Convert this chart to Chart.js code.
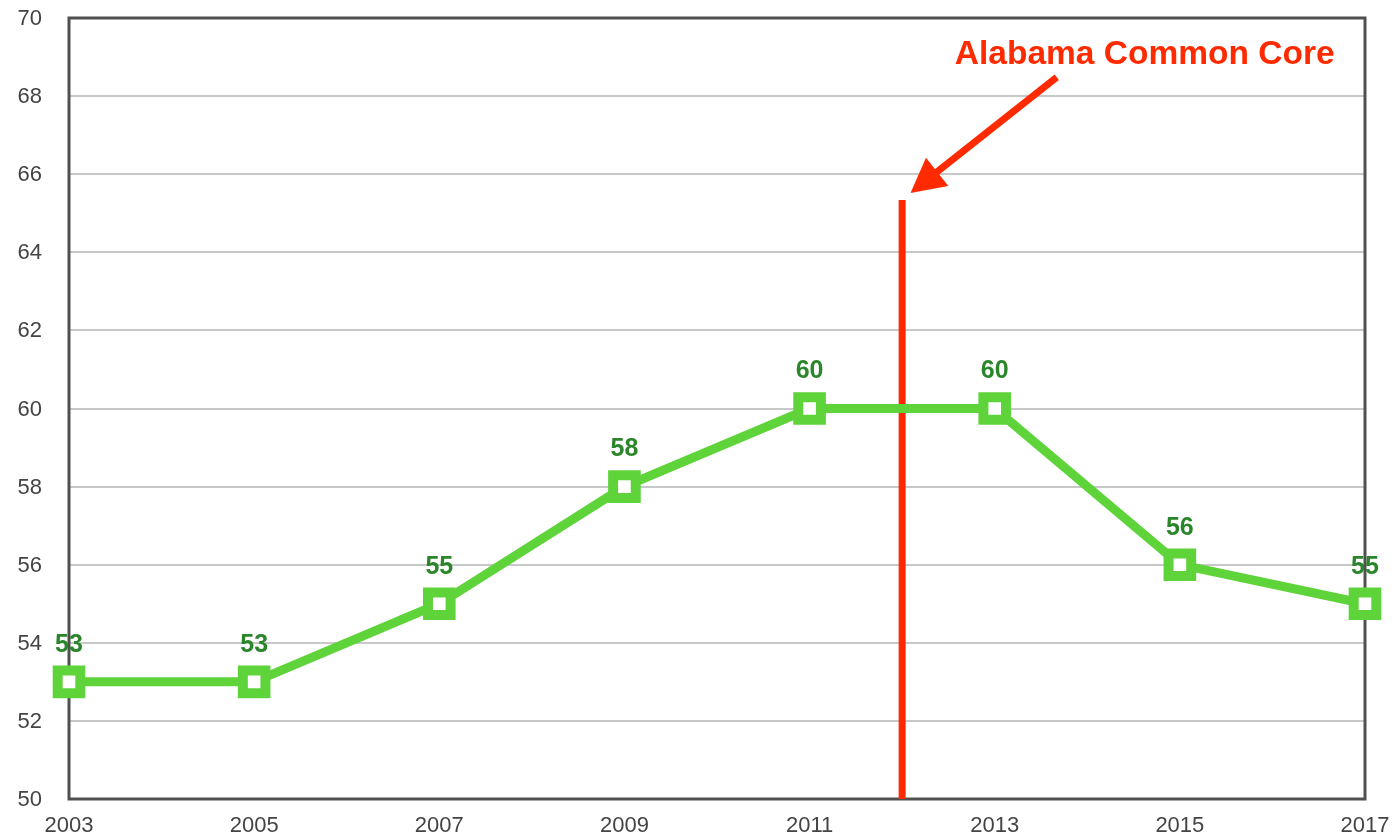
<!DOCTYPE html>
<html>
<head>
<meta charset="utf-8">
<script src="https://cdn.jsdelivr.net/npm/chart.js@4/dist/chart.umd.min.js"></script>
<style>
  html, body { margin: 0; padding: 0; background: #fff; overflow: hidden; }
</style>
</head>
<body>
<canvas id="chart" width="1394" height="833"></canvas>
<script>
// data
const years = [2003, 2005, 2007, 2009, 2011, 2013, 2015, 2017];
const scores = [53, 53, 55, 58, 60, 60, 56, 55];
const yTicks = [50, 52, 54, 56, 58, 60, 62, 64, 66, 68, 70];

// annotation (in data units)
const ccYear = 2012;
const ccLineTop = 65.34;
const ccLabel = 'Alabama Common Core';
const ccLabelPos = [2014.62, 69.06];
const ccArrowFrom = [2013.67, 68.48];
const ccArrowTo = [2012.09, 65.52];

const green = '#5ed43a';
const labelGreen = '#2b862b';
const red = '#ff2a00';
const font = '"Liberation Sans", Arial, sans-serif';

const frame = {
  id: 'frame',
  beforeDatasetsDraw(chart) {
    const { ctx, chartArea: a, scales } = chart;
    ctx.save();
    // y tick labels
    ctx.font = '22px ' + font;
    ctx.fillStyle = '#444';
    ctx.textAlign = 'right';
    ctx.textBaseline = 'middle';
    yTicks.forEach(v => ctx.fillText(String(v), a.left - 27, scales.y.getPixelForValue(v) + 1));

    ctx.strokeStyle = '#505050';
    ctx.lineWidth = 3;
    ctx.strokeRect(a.left, a.top, a.right - a.left, a.bottom - a.top);
    // common core line
    const x = scales.x.getPixelForValue(ccYear);
    ctx.strokeStyle = red;
    ctx.lineWidth = 7;
    ctx.beginPath();
    ctx.moveTo(x, scales.y.getPixelForValue(ccLineTop));
    ctx.lineTo(x, a.bottom);
    ctx.stroke();
    ctx.restore();
  }
};

const labels = {
  id: 'labels',
  afterDatasetsDraw(chart) {
    const { ctx, scales } = chart;
    const meta = chart.getDatasetMeta(0);
    ctx.save();
    ctx.font = 'bold 25px ' + font;
    ctx.fillStyle = labelGreen;
    ctx.textAlign = 'center';
    ctx.textBaseline = 'middle';
    meta.data.forEach((pt, i) => {
      ctx.fillText(String(scores[i]), pt.x, pt.y - 37);
    });

    // arrow
    const x1 = scales.x.getPixelForValue(ccArrowFrom[0]);
    const y1 = scales.y.getPixelForValue(ccArrowFrom[1]);
    const x2 = scales.x.getPixelForValue(ccArrowTo[0]);
    const y2 = scales.y.getPixelForValue(ccArrowTo[1]);
    const ang = Math.atan2(y2 - y1, x2 - x1);
    const head = 34, hw = 18;
    const bx = x2 - head * Math.cos(ang), by = y2 - head * Math.sin(ang);
    ctx.strokeStyle = red;
    ctx.fillStyle = red;
    ctx.lineWidth = 7;
    ctx.beginPath();
    ctx.moveTo(x1, y1);
    ctx.lineTo(bx + 2 * Math.cos(ang), by + 2 * Math.sin(ang));
    ctx.stroke();
    ctx.beginPath();
    ctx.moveTo(x2, y2);
    ctx.lineTo(bx + hw * Math.sin(ang), by - hw * Math.cos(ang));
    ctx.lineTo(bx - hw * Math.sin(ang), by + hw * Math.cos(ang));
    ctx.closePath();
    ctx.fill();

    ctx.font = 'bold 33.5px ' + font;
    ctx.fillText(ccLabel, scales.x.getPixelForValue(ccLabelPos[0]), scales.y.getPixelForValue(ccLabelPos[1]));
    ctx.restore();
  }
};

new Chart(document.getElementById('chart'), {
  type: 'line',
  data: {
    datasets: [{
      data: years.map((y, i) => ({ x: y, y: scores[i] })),
      borderColor: green,
      borderWidth: 9,
      pointStyle: 'rect',
      pointRadius: 16,
      pointHoverRadius: 16,
      pointBorderWidth: 10,
      pointBorderColor: green,
      pointBackgroundColor: '#fff',
      tension: 0,
      clip: false
    }]
  },
  options: {
    responsive: false,
    animation: false,
    events: [],
    layout: { autoPadding: false, padding: { left: 0, right: 29, top: 18, bottom: 0 } },
    plugins: { legend: { display: false }, tooltip: { enabled: false } },
    scales: {
      x: {
        type: 'linear',
        min: years[0],
        max: years[years.length - 1],
        grid: { display: false },
        border: { display: false },
        ticks: {
          stepSize: 2,
          padding: 6,
          color: '#444',
          font: { family: font, size: 22 },
          callback: v => String(v),
          maxRotation: 0
        },
        afterFit(s) { s.height = 34; s.paddingLeft = 0; s.paddingRight = 0; }
      },
      y: {
        min: yTicks[0],
        max: yTicks[yTicks.length - 1],
        grid: { color: '#c8c8c8', lineWidth: 2, drawTicks: false },
        border: { display: false },
        ticks: { stepSize: 2, display: false },
        afterFit(s) { s.width = 69; s.paddingTop = 0; s.paddingBottom = 0; }
      }
    }
  },
  plugins: [frame, labels]
});
</script>
</body>
</html>
